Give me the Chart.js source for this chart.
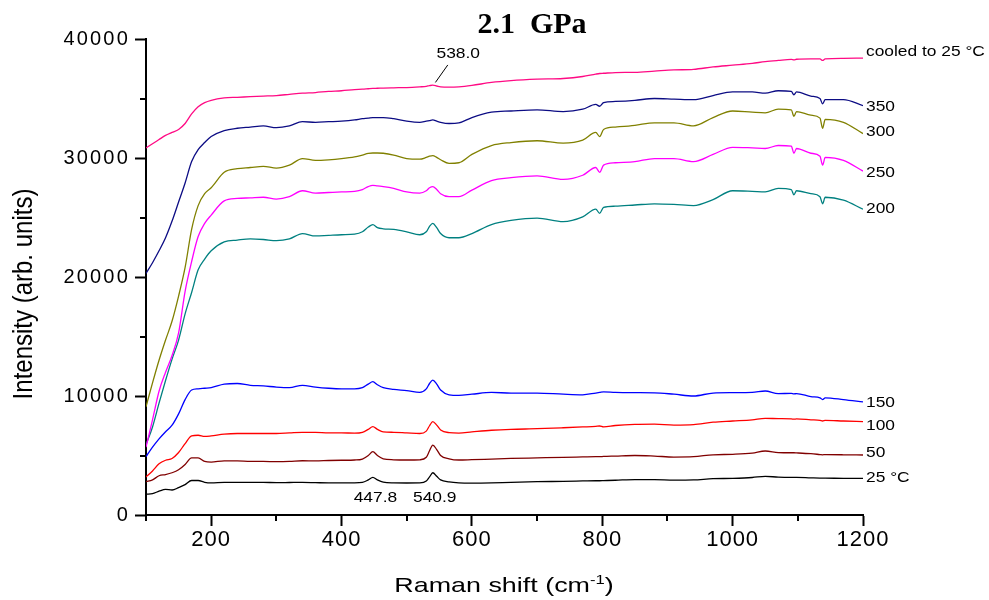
<!DOCTYPE html>
<html>
<head>
<meta charset="utf-8">
<title>2.1 GPa Raman spectra</title>
<script src="https://cdn.jsdelivr.net/npm/chart.js@4.4.1/dist/chart.umd.min.js"></script>
<style>
  html, body { margin: 0; padding: 0; background: #fff; }
  canvas { display: block; }
</style>
</head>
<body>
<canvas id="raman-chart" width="989" height="600"></canvas>
<script>
// Raman shift grid (cm-1), shared by every spectrum
const wavenumber = [100,110,120,130,140,150,160,170,180,190,200,220,240,260,280,300,320,340,360,380,400,
  420,432,441,448,455,464,480,500,520,530,535,540,546,552,565,580,600,630,660,700,740,770,790,796,802,
  820,850,880,910,940,970,1000,1030,1050,1070,1090,1094,1098,1120,1134,1138,1142,1170,1200];

// intensities (arb. units)
const cooled = [30840,31200,31550,31900,32150,32400,32900,33700,34300,34650,34850,35050,35100,35150,35200,35250,35350,35450,35500,35600,35650,
  35750,35780,35820,35850,35860,35880,35900,35920,35980,36020,36080,36120,36050,35980,35950,35980,36100,36350,36500,36620,36680,36850,37050,37100,37120,
  37180,37200,37300,37400,37450,37650,37800,37950,38100,38200,38280,38250,38300,38330,38330,38200,38330,38380,38400];
const t350 = [20300,21200,22200,23300,24700,26300,27900,29700,30700,31300,31800,32300,32500,32600,32700,32550,32700,33050,33000,33050,33100,
  33200,33300,33350,33400,33400,33400,33300,33100,33000,33100,33150,33200,33100,33000,32900,32950,33400,33850,33950,34050,33900,34100,34500,34350,34650,
  34750,34850,35000,34950,34900,35250,35550,35550,35450,35650,35600,35300,35550,35200,35000,34550,34900,34900,34400];
const t300 = [9100,11100,13000,14700,16300,18400,20800,24000,26000,27000,27500,28800,29100,29200,29300,29150,29400,29950,29800,29850,29950,
  30100,30250,30380,30420,30420,30400,30250,29950,29900,30050,30150,30200,30050,29850,29550,29600,30300,31050,31300,31450,31250,31500,32150,31800,32400,
  32600,32750,32950,32950,32700,33400,33950,33850,33800,34100,34050,33500,33900,33600,33350,32500,33250,33000,32050];
const t250 = [5700,8000,10400,12000,13400,15300,18800,21300,23400,24500,25200,26400,26600,26650,26700,26550,26750,27250,27050,27100,27150,
  27200,27350,27600,27700,27650,27600,27450,27150,27050,27250,27500,27600,27350,27000,26750,26750,27300,28100,28350,28500,28200,28550,29200,28800,29400,
  29600,29700,29950,29950,29700,30300,30900,30850,30800,31050,31000,30400,30800,30400,30150,29400,30050,29800,28900];
const t200 = [5900,7400,9400,11300,13100,14700,16900,18700,20600,21500,22200,22950,23100,23200,23150,23050,23200,23650,23450,23500,23550,
  23600,23800,24200,24400,24150,24050,24000,23800,23550,23800,24250,24500,24150,23650,23300,23300,23650,24400,24750,24950,24650,25050,25700,25350,25850,
  25950,26050,26150,26100,26000,26500,27250,27200,27150,27450,27350,26900,27250,27000,26750,26150,26700,26450,25700];
const t150 = [4900,5700,6400,7000,7550,8500,9700,10500,10600,10650,10700,11000,11050,10900,10850,10750,10700,10900,10750,10650,10600,
  10600,10700,11000,11200,10950,10700,10550,10450,10300,10600,11050,11330,11000,10500,10100,10050,10150,10300,10250,10250,10150,10100,10250,10300,10350,
  10300,10280,10270,10150,10000,10250,10280,10300,10420,10200,10220,10180,10200,9950,9850,9700,9850,9700,9500];
const t100 = [3200,3700,4300,4600,4750,5250,6000,6650,6700,6600,6650,6800,6850,6850,6850,6850,6900,6950,6950,6900,6900,
  6880,6950,7200,7430,7200,6980,6950,6900,6850,7050,7500,7850,7550,7150,6920,6880,6980,7120,7200,7250,7330,7400,7450,7480,7400,
  7520,7620,7640,7560,7600,7800,7900,8000,8120,8100,8080,8050,8080,8000,7950,7900,7950,7900,7850];
const t50 = [2800,2950,3300,3400,3550,3800,4250,4800,4800,4500,4450,4550,4550,4500,4500,4480,4500,4560,4550,4580,4600,
  4620,4700,5000,5320,5000,4720,4640,4620,4640,4850,5400,5880,5500,5000,4720,4620,4650,4700,4750,4800,4850,4880,4900,4900,4920,
  4950,5000,4950,4870,4900,5060,5100,5200,5380,5250,5230,5230,5220,5150,5080,5060,5070,5060,5040];
const t25 = [1750,1800,2000,2150,2100,2300,2550,2900,2900,2750,2700,2750,2750,2740,2740,2720,2730,2740,2720,2700,2700,
  2700,2740,2950,3170,2950,2760,2700,2690,2700,2850,3200,3550,3250,2950,2780,2700,2680,2700,2750,2800,2830,2860,2880,2880,2890,
  2920,2980,2980,2930,2950,3050,3080,3150,3250,3180,3160,3160,3160,3120,3100,3100,3100,3080,3080];

const seriesNames = ['cooled to 25 °C', '350', '300', '250', '200', '150', '100', '50', '25 °C'];
const seriesValues = [cooled, t350, t300, t250, t200, t150, t100, t50, t25];
const seriesColors = ['#ff0a84', '#0c0c84', '#808000', '#ff00ff', '#008080', '#0000ff', '#ff0000', '#800000', '#000000'];
// where each curve's name sits at the right end (intensity units)
const nameLevels = [38900, 34280, 32180, 28740, 25710, 9410, 7480, 5210, 3110];

const xTicks = [200, 400, 600, 800, 1000, 1200];
const xMinor = [100, 300, 500, 700, 900, 1100];
const yTicks = [0, 10000, 20000, 30000, 40000];
const yMinor = [5000, 15000, 25000, 35000];

// peak annotations: label position, optional leader line (data units)
const peakNotes = [
  { text: '447.8', x: 452, y: 1480 },
  { text: '540.9', x: 543, y: 1480 },
  { text: '538.0', x: 579, y: 38760, from: [544, 36350], to: [563, 37820] }
];

const SANS = '"Liberation Sans", Arial, sans-serif';

// draws text squeezed/stretched horizontally like the original figure
function stretchText(ctx, text, x, y, sx, align) {
  ctx.save();
  ctx.translate(x, y);
  ctx.scale(sx, 1);
  ctx.textAlign = align || 'left';
  ctx.fillText(text, 0, 0);
  ctx.restore();
}

// wider tick labels, as in the picture
const tickSpacing = {
  id: 'tickSpacing',
  beforeDraw(chart) {
    [['x', '1px'], ['y', '2.2px']].forEach(([id, sp]) => {
      const s = chart.scales[id];
      if (!s || s._spaced) return;
      const orig = s.drawLabels.bind(s);
      s.drawLabels = function(area) {
        const c = this.ctx;
        c.save();
        c.letterSpacing = sp;
        orig(area);
        c.restore();
      };
      s._spaced = true;
    });
  }
};

const decorations = {
  id: 'decorations',
  afterDraw(chart) {
    const ctx = chart.ctx;
    const xs = chart.scales.x, ys = chart.scales.y;
    const area = chart.chartArea;
    ctx.save();
    ctx.letterSpacing = '0px';
    ctx.strokeStyle = '#000';
    ctx.fillStyle = '#000';

    // minor ticks
    ctx.lineWidth = 2;
    ctx.beginPath();
    yMinor.forEach(v => {
      const py = Math.round(ys.getPixelForValue(v));
      ctx.moveTo(area.left - 6, py);
      ctx.lineTo(area.left, py);
    });
    xMinor.forEach(v => {
      const px = Math.round(xs.getPixelForValue(v));
      ctx.moveTo(px, area.bottom);
      ctx.lineTo(px, area.bottom + 6);
    });
    ctx.stroke();

    // title
    ctx.font = 'bold 30px "Liberation Serif", "Times New Roman", serif';
    ctx.textBaseline = 'alphabetic';
    ctx.textAlign = 'center';
    ctx.fillText('2.1  GPa', 532, 33);

    // x axis title with superscript
    const sx = 1.28;
    ctx.font = '21px ' + SANS;
    const p1 = 'Raman shift (cm', p3 = ')';
    const w1 = ctx.measureText(p1).width, w3 = ctx.measureText(p3).width;
    ctx.font = '13px ' + SANS;
    const w2 = ctx.measureText('-1').width;
    let x0 = 504 - (w1 + w2 + w3) * sx / 2;
    ctx.font = '21px ' + SANS;
    stretchText(ctx, p1, x0, 592, sx);
    ctx.font = '13px ' + SANS;
    stretchText(ctx, '-1', x0 + w1 * sx, 584, sx);
    ctx.font = '21px ' + SANS;
    stretchText(ctx, p3, x0 + (w1 + w2) * sx, 592, sx);

    // y axis title
    ctx.save();
    ctx.translate(32, 294);
    ctx.rotate(-Math.PI / 2);
    ctx.scale(1, 1.17);
    ctx.font = '24px ' + SANS;
    ctx.textAlign = 'center';
    ctx.fillText('Intensity (arb. units)', 0, 0);
    ctx.restore();

    // curve names at the right end
    ctx.font = '15.5px ' + SANS;
    ctx.textBaseline = 'middle';
    seriesNames.forEach((name, i) => {
      stretchText(ctx, name, area.right + 3, ys.getPixelForValue(nameLevels[i]), 1.12, 'left');
    });

    // peak positions
    ctx.font = '15px ' + SANS;
    ctx.lineWidth = 1;
    peakNotes.forEach(n => {
      stretchText(ctx, n.text, xs.getPixelForValue(n.x), ys.getPixelForValue(n.y), 1.16, 'center');
      if (n.from) {
        ctx.beginPath();
        ctx.moveTo(xs.getPixelForValue(n.from[0]), ys.getPixelForValue(n.from[1]));
        ctx.lineTo(xs.getPixelForValue(n.to[0]), ys.getPixelForValue(n.to[1]));
        ctx.stroke();
      }
    });
    ctx.restore();
  }
};

const datasets = seriesNames.map((name, i) => ({
  label: name,
  data: wavenumber.map((w, j) => ({ x: w, y: seriesValues[i][j] })),
  borderColor: seriesColors[i],
  borderWidth: 1.3,
  pointRadius: 0,
  cubicInterpolationMode: 'monotone',
  fill: false
}));

const ctx = document.getElementById('raman-chart').getContext('2d');
new Chart(ctx, {
  type: 'line',
  data: { datasets },
  options: {
    responsive: false,
    animation: false,
    layout: { padding: { left: 0, right: 126, top: 39, bottom: 0 } },
    plugins: {
      legend: { display: false },
      tooltip: { enabled: false },
      title: { display: false }
    },
    scales: {
      x: {
        type: 'linear',
        min: 100,
        max: 1200,
        afterBuildTicks: s => { s.ticks = xTicks.map(v => ({ value: v })); },
        afterFit: s => { s.height = 85; },
        grid: { drawOnChartArea: false, drawTicks: true, tickLength: 11, tickWidth: 2, tickColor: '#000' },
        border: { display: true, color: '#000', width: 2 },
        ticks: { color: '#000', padding: 1, maxRotation: 0, font: { family: SANS, size: 22 }, callback: v => String(v) }
      },
      y: {
        type: 'linear',
        min: 0,
        max: 40000,
        afterBuildTicks: s => { s.ticks = yTicks.map(v => ({ value: v })); },
        afterFit: s => { s.width = 146; },
        grid: { drawOnChartArea: false, drawTicks: true, tickLength: 11, tickWidth: 2, tickColor: '#000' },
        border: { display: true, color: '#000', width: 2 },
        ticks: { color: '#000', padding: 5, font: { family: SANS, size: 20 }, callback: v => String(v) }
      }
    }
  },
  plugins: [tickSpacing, decorations]
});
</script>
</body>
</html>
